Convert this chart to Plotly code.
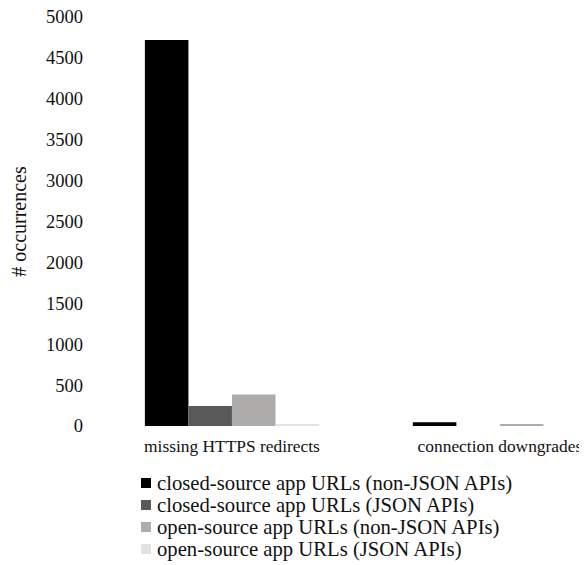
import plotly.graph_objects as go

categories = ["missing HTTPS redirects", "connection downgrades"]
series_names = [
    "closed-source app URLs (non-JSON APIs)",
    "closed-source app URLs (JSON APIs)",
    "open-source app URLs (non-JSON APIs)",
    "open-source app URLs (JSON APIs)",
]
closed_non_json = [4720, 45]
closed_json = [245, 0]
open_non_json = [385, 20]
open_json = [15, 0]
series_values = [closed_non_json, closed_json, open_non_json, open_json]
colors = ["#000000", "#595959", "#aeabab", "#e3e3e3"]
y_ticks = list(range(0, 5001, 500))

FONT = "Liberation Serif"
# page body has an 8px margin, so figure coords = screen coords - 8;
# size the figure so it fits the window without scrollbars
W, H = 579, 557
L, R, T, B = 90, 0, 9, 139
plot_w, plot_h = W - L - R, H - T - B

fig = go.Figure()
for name, vals, col in zip(series_names, series_values, colors):
    fig.add_trace(go.Bar(name=name, x=categories, y=vals, showlegend=False,
                         marker=dict(color=col, line=dict(width=0))))

# legend drawn as swatch + text rows (tight line spacing as in reference)
leg_x_sw0, leg_sw = 133, 10
leg_text_x = 147
leg_y0, leg_dy = 475, 22
for i, (name, col) in enumerate(zip(series_names, colors)):
    yc = leg_y0 + i * leg_dy
    fig.add_shape(type="rect", xref="paper", yref="paper",
                  x0=(leg_x_sw0 - L) / plot_w, x1=(leg_x_sw0 + leg_sw - L) / plot_w,
                  y0=(H - B - (yc + leg_sw / 2)) / plot_h, y1=(H - B - (yc - leg_sw / 2)) / plot_h,
                  fillcolor=col, line=dict(width=0))
    fig.add_annotation(text=name, xref="paper", yref="paper",
                       x=(leg_text_x - L) / plot_w, y=(H - B - yc) / plot_h,
                       xanchor="left", yanchor="middle", showarrow=False,
                       font=dict(size=20.7, family=FONT, color="#111"))

fig.update_layout(
    width=W, height=H,
    barmode="group", bargap=0.35, bargroupgap=0,
    plot_bgcolor="white", paper_bgcolor="white",
    font=dict(family=FONT, size=18.5, color="#111"),
    margin=dict(l=L, r=R, t=T, b=B, autoexpand=False),
    showlegend=False,
    xaxis=dict(range=[-0.5, 1.325], showline=False, showgrid=False, ticks="",
               automargin=False, tickfont=dict(size=17.4), fixedrange=True,
               ticklabelstandoff=8, ticklabeloverflow="allow"),
    yaxis=dict(range=[0, 5000], tickvals=y_ticks, showgrid=False, zeroline=False,
               showline=False, ticks="", ticklabelstandoff=14, automargin=False,
               tickfont=dict(size=18.5), fixedrange=True, ticklabeloverflow="allow",
               title=dict(text="# occurrences", font=dict(size=20), standoff=18)),
)
fig.write_html("out.html")
